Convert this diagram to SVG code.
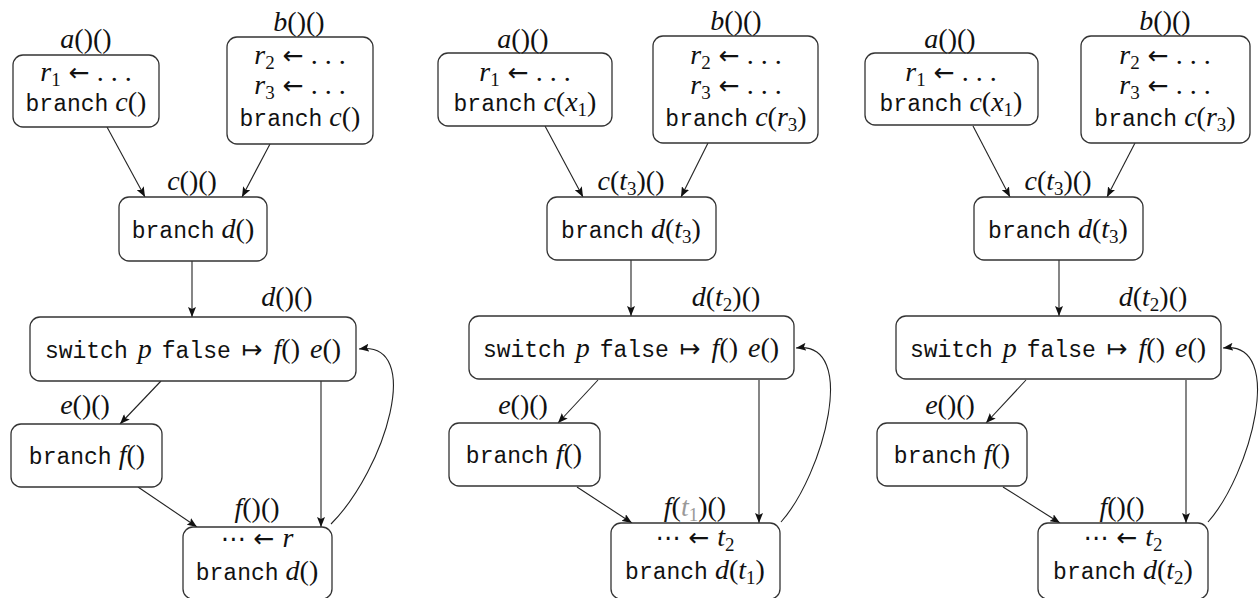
<svg xmlns="http://www.w3.org/2000/svg" width="1260" height="598" viewBox="0 0 1260 598">
<defs>
<marker id="ah" viewBox="0 0 10 8" refX="10" refY="4" markerWidth="10" markerHeight="8" markerUnits="userSpaceOnUse" orient="auto">
<path d="M0,0 L10,4 L0,8 L2,4 Z" fill="#111"/>
</marker>
<style>
.box{fill:#fff;stroke:#333;stroke-width:1.3}
.e{fill:none;stroke:#222;stroke-width:1.1;marker-end:url(#ah)}
text{font-family:"Liberation Serif",serif;font-size:28px;text-anchor:middle;fill:#111}
.m{font-style:italic}
.tt{font-family:"Liberation Mono",monospace;font-size:23px;font-style:normal}
.sy{font-family:"DejaVu Sans",sans-serif;font-size:25px;font-style:normal}
.sub{font-size:19px;font-style:normal}
.gray{fill:#9a9a9a}
.sw{word-spacing:3px}
</style>
</defs>
<rect width="1260" height="598" fill="#fff"/>

<g id="connectors">
<!-- panel 1 -->
<line class="e" x1="107" y1="127" x2="145" y2="197"/>
<line class="e" x1="270" y1="144" x2="242" y2="197"/>
<line class="e" x1="192" y1="261" x2="192" y2="317"/>
<line class="e" x1="161" y1="381" x2="120" y2="424"/>
<line class="e" x1="138" y1="487" x2="197" y2="527"/>
<line class="e" x1="321" y1="381" x2="321" y2="527"/>
<path class="e" d="M331,524 C385,470 425,340 359,349"/>
<!-- panel 2 -->
<line class="e" x1="545" y1="126" x2="583" y2="197"/>
<line class="e" x1="708" y1="143" x2="681" y2="197"/>
<line class="e" x1="631" y1="260" x2="631" y2="316"/>
<line class="e" x1="598" y1="380" x2="558" y2="423"/>
<line class="e" x1="577" y1="487" x2="632" y2="523"/>
<line class="e" x1="759" y1="380" x2="759" y2="523"/>
<path class="e" d="M781,522 C823,475 860,340 796,348"/>
<!-- panel 3 -->
<line class="e" x1="973" y1="126" x2="1010" y2="197"/>
<line class="e" x1="1135" y1="143" x2="1107" y2="197"/>
<line class="e" x1="1059" y1="260" x2="1059" y2="316"/>
<line class="e" x1="1026" y1="380" x2="986" y2="423"/>
<line class="e" x1="1003" y1="487" x2="1060" y2="523"/>
<line class="e" x1="1186" y1="380" x2="1186" y2="523"/>
<path class="e" d="M1208,522 C1250,475 1287,340 1223,348"/>
</g>

<!-- ================= Panel 1 ================= -->
<g id="p1-a">
<rect class="box" x="13" y="55" width="146" height="72" rx="10"/>
<text x="86" y="48"><tspan class="m">a</tspan>()()</text>
<text x="86" y="81"><tspan class="m">r</tspan><tspan class="sub" dy="5">1</tspan><tspan class="sy" dy="-5"> ←</tspan> . . .</text>
<text x="86" y="111"><tspan class="tt">branch</tspan> <tspan class="m">c</tspan>()</text>
</g>
<g id="p1-b">
<rect class="box" x="227" y="37" width="146" height="107" rx="10"/>
<text x="299" y="31"><tspan class="m">b</tspan>()()</text>
<text x="300" y="64"><tspan class="m">r</tspan><tspan class="sub" dy="5">2</tspan><tspan class="sy" dy="-5"> ←</tspan> . . .</text>
<text x="300" y="94"><tspan class="m">r</tspan><tspan class="sub" dy="5">3</tspan><tspan class="sy" dy="-5"> ←</tspan> . . .</text>
<text x="300" y="126"><tspan class="tt">branch</tspan> <tspan class="m">c</tspan>()</text>
</g>
<g id="p1-c">
<rect class="box" x="119" y="197" width="148" height="64" rx="10"/>
<text x="192" y="190"><tspan class="m">c</tspan>()()</text>
<text x="193" y="238"><tspan class="tt">branch</tspan> <tspan class="m">d</tspan>()</text>
</g>
<g id="p1-d">
<rect class="box" x="30" y="317" width="326" height="64" rx="10"/>
<text x="287" y="306"><tspan class="m">d</tspan>()()</text>
<text class="sw" x="193" y="358"><tspan class="tt">switch</tspan> <tspan class="m">p</tspan> <tspan class="tt">false</tspan><tspan class="sy"> ↦ </tspan><tspan class="m">f</tspan>() <tspan class="m">e</tspan>()</text>
</g>
<g id="p1-e">
<rect class="box" x="11" y="424" width="151" height="63" rx="10"/>
<text x="85" y="414"><tspan class="m">e</tspan>()()</text>
<text x="87" y="464"><tspan class="tt">branch</tspan> <tspan class="m">f</tspan>()</text>
</g>
<g id="p1-f">
<rect class="box" x="183" y="527" width="149" height="72" rx="10"/>
<text x="257" y="517"><tspan class="m">f</tspan>()()</text>
<text x="257" y="547"><tspan class="sy">⋯ ← </tspan><tspan class="m">r</tspan></text>
<text x="257" y="580"><tspan class="tt">branch</tspan> <tspan class="m">d</tspan>()</text>
</g>

<!-- ================= Panel 2 ================= -->
<g id="p2-a">
<rect class="box" x="438" y="53" width="174" height="73" rx="10"/>
<text x="523" y="48"><tspan class="m">a</tspan>()()</text>
<text x="525" y="81"><tspan class="m">r</tspan><tspan class="sub" dy="5">1</tspan><tspan class="sy" dy="-5"> ←</tspan> . . .</text>
<text x="525" y="111"><tspan class="tt">branch</tspan> <tspan class="m">c</tspan>(<tspan class="m">x</tspan><tspan class="sub" dy="5">1</tspan><tspan dy="-5">)</tspan></text>
</g>
<g id="p2-b">
<rect class="box" x="653" y="36" width="165" height="107" rx="10"/>
<text x="736" y="30"><tspan class="m">b</tspan>()()</text>
<text x="736" y="64"><tspan class="m">r</tspan><tspan class="sub" dy="5">2</tspan><tspan class="sy" dy="-5"> ←</tspan> . . .</text>
<text x="736" y="94"><tspan class="m">r</tspan><tspan class="sub" dy="5">3</tspan><tspan class="sy" dy="-5"> ←</tspan> . . .</text>
<text x="736" y="126"><tspan class="tt">branch</tspan> <tspan class="m">c</tspan>(<tspan class="m">r</tspan><tspan class="sub" dy="5">3</tspan><tspan dy="-5">)</tspan></text>
</g>
<g id="p2-c">
<rect class="box" x="547" y="197" width="169" height="63" rx="10"/>
<text x="631" y="190"><tspan class="m">c</tspan>(<tspan class="m">t</tspan><tspan class="sub" dy="5">3</tspan><tspan dy="-5">)()</tspan></text>
<text x="631" y="238"><tspan class="tt">branch</tspan> <tspan class="m">d</tspan>(<tspan class="m">t</tspan><tspan class="sub" dy="5">3</tspan><tspan dy="-5">)</tspan></text>
</g>
<g id="p2-d">
<rect class="box" x="469" y="316" width="325" height="63" rx="10"/>
<text x="726" y="306"><tspan class="m">d</tspan>(<tspan class="m">t</tspan><tspan class="sub" dy="5">2</tspan><tspan dy="-5">)()</tspan></text>
<text class="sw" x="631" y="357"><tspan class="tt">switch</tspan> <tspan class="m">p</tspan> <tspan class="tt">false</tspan><tspan class="sy"> ↦ </tspan><tspan class="m">f</tspan>() <tspan class="m">e</tspan>()</text>
</g>
<g id="p2-e">
<rect class="box" x="449" y="423" width="151" height="63" rx="10"/>
<text x="523" y="414"><tspan class="m">e</tspan>()()</text>
<text x="524" y="463"><tspan class="tt">branch</tspan> <tspan class="m">f</tspan>()</text>
</g>
<g id="p2-f">
<rect class="box" x="611" y="523" width="169" height="76" rx="10"/>
<text x="695" y="516"><tspan class="m">f</tspan>(<tspan class="m gray">t</tspan><tspan class="sub gray" dy="5">1</tspan><tspan dy="-5">)()</tspan></text>
<text x="695" y="546"><tspan class="sy">⋯ ← </tspan><tspan class="m">t</tspan><tspan class="sub" dy="5">2</tspan></text>
<text x="695" y="579"><tspan class="tt">branch</tspan> <tspan class="m">d</tspan>(<tspan class="m">t</tspan><tspan class="sub" dy="5">1</tspan><tspan dy="-5">)</tspan></text>
</g>

<!-- ================= Panel 3 ================= -->
<g id="p3-a">
<rect class="box" x="865" y="53" width="173" height="72" rx="10"/>
<text x="950" y="48"><tspan class="m">a</tspan>()()</text>
<text x="951" y="81"><tspan class="m">r</tspan><tspan class="sub" dy="5">1</tspan><tspan class="sy" dy="-5"> ←</tspan> . . .</text>
<text x="951" y="111"><tspan class="tt">branch</tspan> <tspan class="m">c</tspan>(<tspan class="m">x</tspan><tspan class="sub" dy="5">1</tspan><tspan dy="-5">)</tspan></text>
</g>
<g id="p3-b">
<rect class="box" x="1081" y="36" width="169" height="107" rx="10"/>
<text x="1165" y="30"><tspan class="m">b</tspan>()()</text>
<text x="1165" y="64"><tspan class="m">r</tspan><tspan class="sub" dy="5">2</tspan><tspan class="sy" dy="-5"> ←</tspan> . . .</text>
<text x="1165" y="94"><tspan class="m">r</tspan><tspan class="sub" dy="5">3</tspan><tspan class="sy" dy="-5"> ←</tspan> . . .</text>
<text x="1165" y="126"><tspan class="tt">branch</tspan> <tspan class="m">c</tspan>(<tspan class="m">r</tspan><tspan class="sub" dy="5">3</tspan><tspan dy="-5">)</tspan></text>
</g>
<g id="p3-c">
<rect class="box" x="974" y="197" width="169" height="63" rx="10"/>
<text x="1058" y="190"><tspan class="m">c</tspan>(<tspan class="m">t</tspan><tspan class="sub" dy="5">3</tspan><tspan dy="-5">)()</tspan></text>
<text x="1058" y="238"><tspan class="tt">branch</tspan> <tspan class="m">d</tspan>(<tspan class="m">t</tspan><tspan class="sub" dy="5">3</tspan><tspan dy="-5">)</tspan></text>
</g>
<g id="p3-d">
<rect class="box" x="896" y="316" width="325" height="63" rx="10"/>
<text x="1153" y="306"><tspan class="m">d</tspan>(<tspan class="m">t</tspan><tspan class="sub" dy="5">2</tspan><tspan dy="-5">)()</tspan></text>
<text class="sw" x="1058" y="357"><tspan class="tt">switch</tspan> <tspan class="m">p</tspan> <tspan class="tt">false</tspan><tspan class="sy"> ↦ </tspan><tspan class="m">f</tspan>() <tspan class="m">e</tspan>()</text>
</g>
<g id="p3-e">
<rect class="box" x="877" y="423" width="150" height="63" rx="10"/>
<text x="950" y="414"><tspan class="m">e</tspan>()()</text>
<text x="952" y="463"><tspan class="tt">branch</tspan> <tspan class="m">f</tspan>()</text>
</g>
<g id="p3-f">
<rect class="box" x="1038" y="523" width="170" height="76" rx="10"/>
<text x="1122" y="516"><tspan class="m">f</tspan>()()</text>
<text x="1123" y="546"><tspan class="sy">⋯ ← </tspan><tspan class="m">t</tspan><tspan class="sub" dy="5">2</tspan></text>
<text x="1123" y="579"><tspan class="tt">branch</tspan> <tspan class="m">d</tspan>(<tspan class="m">t</tspan><tspan class="sub" dy="5">2</tspan><tspan dy="-5">)</tspan></text>
</g>
</svg>
